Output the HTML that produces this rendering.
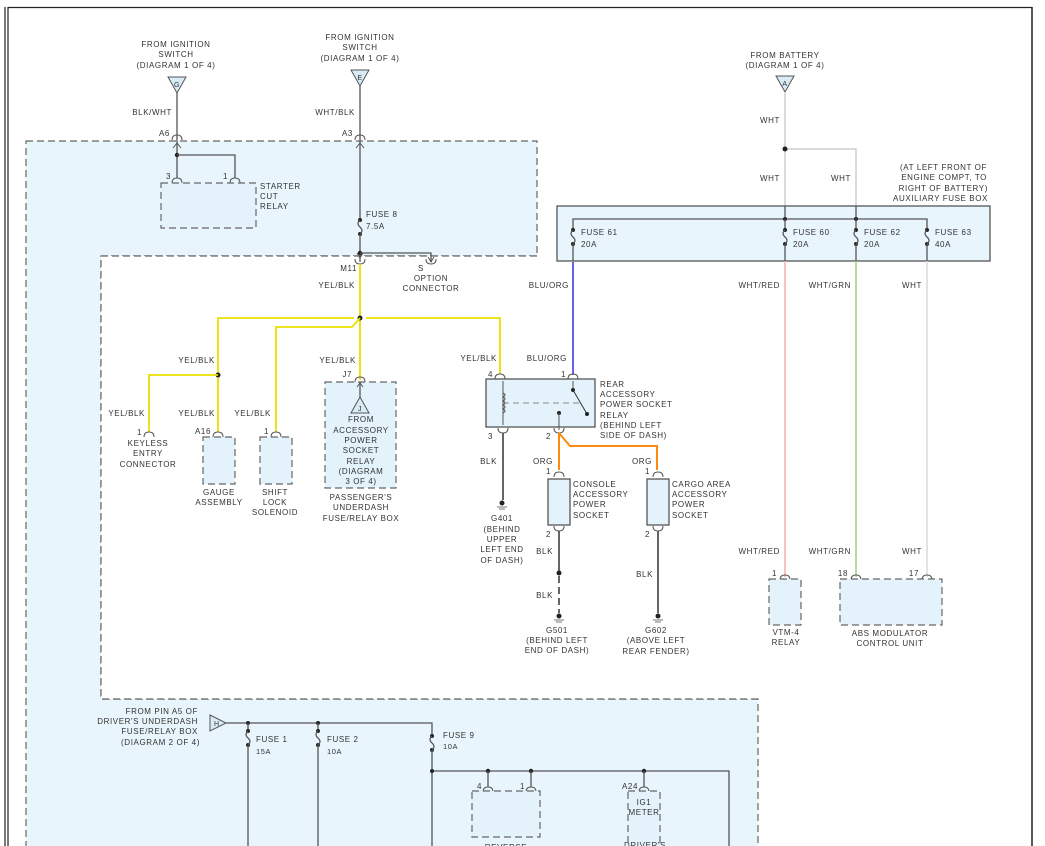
<!DOCTYPE html>
<html><head><meta charset="utf-8"><style>
html,body{margin:0;padding:0;background:#fff;}
svg{display:block;}
text{font-family:"Liberation Sans",sans-serif;font-size:8px;fill:#333;letter-spacing:0.6px;}
.m{text-anchor:middle}.e{text-anchor:end}
.w{fill:none;stroke:#555;stroke-width:1.3}
.d{stroke:#666;stroke-width:1.2;stroke-dasharray:7 4}
.y{fill:none;stroke:#e8e000;stroke-width:1.8}
.pin{fill:none;stroke:#555;stroke-width:1}
</style></head><body>
<svg width="1045" height="846" viewBox="0 0 1045 846">
<defs>
<path id="pu" d="M-5 3 Q-5 -2 0 -2 Q5 -2 5 3" class="pin"/>
<path id="pd" d="M-5 -3 Q-5 2 0 2 Q5 2 5 -3" class="pin"/>
<g id="fz"><circle cx="0" cy="0" r="2" fill="#222"/><circle cx="0" cy="14" r="2" fill="#222"/><path d="M0 0 Q-4 3.5 0 7 Q4 10.5 0 14" fill="none" stroke="#555" stroke-width="1.2"/></g>
</defs>
<!-- frame -->
<line x1="5" y1="7" x2="5" y2="846" stroke="#222" stroke-width="1.2"/>
<line x1="8" y1="7" x2="8" y2="846" stroke="#222" stroke-width="1.2"/>
<line x1="8" y1="7.5" x2="1032" y2="7.5" stroke="#222" stroke-width="1.2"/>
<line x1="1032" y1="7" x2="1032" y2="846" stroke="#222" stroke-width="1.5"/>
<!-- driver's box -->
<polygon points="26,141 537,141 537,256 101,256 101,699 758,699 758,850 26,850" fill="#e9f5fc" class="d"/>
<rect x="101" y="256" width="657" height="443" fill="#fff"/>
<polyline points="537,256 101,256 101,699 758,699" fill="none" class="d"/>

<!-- G -->
<text x="176" y="47" class="m">FROM IGNITION</text><text x="176" y="57" class="m">SWITCH</text><text x="176" y="68" class="m">(DIAGRAM 1 OF 4)</text>
<polygon points="168,77 186,77 177,93" fill="#d8ecf5" stroke="#555"/><text x="177" y="87" class="m" style="font-size:7px">G</text>
<line x1="177" y1="93" x2="177" y2="178" class="w"/>
<text x="172" y="115" class="e">BLK/WHT</text><text x="170" y="136" class="e">A6</text>
<use href="#pu" x="177" y="137"/><path d="M173 148 L177 143 L181 148" class="pin"/>
<circle cx="177" cy="155" r="2.2" fill="#222"/>
<polyline points="177,155 235,155 235,178" class="w"/>
<text x="171" y="179" class="e">3</text><text x="228" y="179" class="e">1</text>
<use href="#pu" x="177" y="180"/><use href="#pu" x="235" y="180"/>
<rect x="161" y="183" width="95" height="45" fill="#e3f2fb" class="d"/>
<text x="260" y="189">STARTER</text><text x="260" y="199">CUT</text><text x="260" y="209">RELAY</text>

<!-- E -->
<text x="360" y="40" class="m">FROM IGNITION</text><text x="360" y="50" class="m">SWITCH</text><text x="360" y="61" class="m">(DIAGRAM 1 OF 4)</text>
<polygon points="351,70 369,70 360,86" fill="#d8ecf5" stroke="#555"/><text x="360" y="80" class="m" style="font-size:7px">E</text>
<line x1="360" y1="86" x2="360" y2="220" class="w"/>
<text x="355" y="115" class="e">WHT/BLK</text><text x="353" y="136" class="e">A3</text>
<use href="#pu" x="360" y="137"/><path d="M356 148 L360 143 L364 148" class="pin"/>
<use href="#fz" x="360" y="220"/>
<text x="366" y="217">FUSE 8</text><text x="366" y="229">7.5A</text>
<line x1="360" y1="234" x2="360" y2="262" class="w"/>
<circle cx="360" cy="253" r="2.2" fill="#222"/>
<polyline points="360,253 431,253 431,262" class="w"/>
<path d="M357 253 L360 258 L363 253" class="pin"/><path d="M428 257 L431 262 L434 257" class="pin"/>
<use href="#pd" x="360" y="262"/><use href="#pd" x="431" y="262"/>
<text x="357" y="271" class="e">M11</text><text x="421" y="271" class="m">S</text>
<text x="431" y="281" class="m">OPTION</text><text x="431" y="291" class="m">CONNECTOR</text>

<!-- yellow tree -->
<line x1="360" y1="264" x2="360" y2="380" class="y"/>
<text x="355" y="288" class="e">YEL/BLK</text>
<circle cx="360" cy="318" r="2.5" fill="#222"/>
<polyline points="354,318 218,318 218,432" class="y"/>
<polyline points="366,318 500,318 500,374" class="y"/>
<polyline points="360,318 352,327 276,327 276,432" class="y"/>
<circle cx="218" cy="375" r="2.5" fill="#222"/>
<polyline points="218,375 149,375 149,432" class="y"/>
<text x="215" y="363" class="e">YEL/BLK</text><text x="356" y="363" class="e">YEL/BLK</text><text x="497" y="361" class="e">YEL/BLK</text>
<text x="145" y="416" class="e">YEL/BLK</text><text x="215" y="416" class="e">YEL/BLK</text><text x="271" y="416" class="e">YEL/BLK</text>
<!-- keyless -->
<use href="#pu" x="149" y="434"/><text x="142" y="435" class="e">1</text>
<text x="148" y="446" class="m">KEYLESS</text><text x="148" y="456" class="m">ENTRY</text><text x="148" y="467" class="m">CONNECTOR</text>
<!-- gauge -->
<use href="#pu" x="218" y="434"/><text x="211" y="434" class="e">A16</text>
<rect x="203" y="437" width="32" height="47" fill="#e3f2fb" class="d"/>
<text x="219" y="495" class="m">GAUGE</text><text x="219" y="505" class="m">ASSEMBLY</text>
<!-- shift -->
<use href="#pu" x="276" y="434"/><text x="269" y="434" class="e">1</text>
<rect x="260" y="437" width="32" height="47" fill="#e3f2fb" class="d"/>
<text x="275" y="495" class="m">SHIFT</text><text x="275" y="505" class="m">LOCK</text><text x="275" y="515" class="m">SOLENOID</text>
<!-- passenger -->
<use href="#pu" x="360" y="379"/><text x="352" y="377" class="e">J7</text>
<rect x="325" y="382" width="71" height="106" fill="#e3f2fb" class="d"/>
<line x1="360" y1="382" x2="360" y2="397" class="w"/><path d="M357 387 L360 383 L363 387" class="pin"/>
<polygon points="360,397 351,413 369,413" fill="#d8ecf5" stroke="#555"/><text x="360" y="411" class="m" style="font-size:7px">J</text>
<text x="361" y="422" class="m">FROM</text><text x="361" y="433" class="m">ACCESSORY</text><text x="361" y="443" class="m">POWER</text><text x="361" y="453" class="m">SOCKET</text><text x="361" y="464" class="m">RELAY</text><text x="361" y="474" class="m">(DIAGRAM</text><text x="361" y="484" class="m">3 OF 4)</text>
<text x="361" y="500" class="m">PASSENGER'S</text><text x="361" y="510" class="m">UNDERDASH</text><text x="361" y="521" class="m">FUSE/RELAY BOX</text>

<!-- rear relay -->
<line x1="573" y1="262" x2="573" y2="375" stroke="#5a4ee8" stroke-width="1.8"/>
<text x="569" y="288" class="e">BLU/ORG</text><text x="567" y="361" class="e">BLU/ORG</text>
<use href="#pu" x="500" y="376"/><use href="#pu" x="573" y="376"/>
<text x="493" y="377" class="e">4</text><text x="566" y="377" class="e">1</text>
<rect x="486" y="379" width="109" height="48" fill="#e3f2fb" stroke="#555" stroke-width="1.3"/>
<line x1="503" y1="381" x2="503" y2="425" class="pin"/>
<path d="M503 393 q4 2 0 4 q4 2 0 4 q4 2 0 4 q4 2 0 4 q4 2 0 4" fill="none" stroke="#555"/>
<line x1="503" y1="403" x2="580" y2="403" stroke="#888" stroke-dasharray="6 4"/>
<line x1="573" y1="381" x2="573" y2="390" class="pin"/><circle cx="573" cy="390" r="2" fill="#222"/>
<line x1="573" y1="390" x2="587" y2="414" stroke="#333"/><circle cx="587" cy="414" r="2" fill="#222"/>
<circle cx="559" cy="413" r="2" fill="#222"/><line x1="559" y1="413" x2="559" y2="430" class="pin"/>
<use href="#pd" x="503" y="431"/><use href="#pd" x="559" y="431"/>
<text x="493" y="439" class="e">3</text><text x="551" y="439" class="e">2</text>
<text x="600" y="387">REAR</text><text x="600" y="397">ACCESSORY</text><text x="600" y="407">POWER SOCKET</text><text x="600" y="418">RELAY</text><text x="600" y="428">(BEHIND LEFT</text><text x="600" y="438">SIDE OF DASH)</text>
<line x1="503" y1="433" x2="503" y2="500" stroke="#555" stroke-width="1.8"/>
<text x="497" y="464" class="e">BLK</text>
<circle cx="502" cy="503" r="2.5" fill="#222"/><line x1="497" y1="507" x2="507" y2="507" stroke="#777"/><line x1="499" y1="509" x2="505" y2="509" stroke="#777"/>
<text x="502" y="521" class="m">G401</text><text x="502" y="532" class="m">(BEHIND</text><text x="502" y="542" class="m">UPPER</text><text x="502" y="552" class="m">LEFT END</text><text x="502" y="563" class="m">OF DASH)</text>
<polyline points="559,433 559,470" stroke="#ff8a10" stroke-width="2" fill="none"/>
<polyline points="559,433 570,446 657,446 657,470" stroke="#ff8a10" stroke-width="2" fill="none"/>
<text x="553" y="464" class="e">ORG</text><text x="652" y="464" class="e">ORG</text>
<use href="#pu" x="559" y="474"/><use href="#pu" x="658" y="474"/>
<text x="551" y="474" class="e">1</text><text x="650" y="474" class="e">1</text>
<rect x="548" y="479" width="22" height="46" fill="#e3f2fb" stroke="#555" stroke-width="1.3"/>
<rect x="647" y="479" width="22" height="46" fill="#e3f2fb" stroke="#555" stroke-width="1.3"/>
<use href="#pd" x="559" y="529"/><use href="#pd" x="658" y="529"/>
<text x="551" y="537" class="e">2</text><text x="650" y="537" class="e">2</text>
<text x="573" y="487">CONSOLE</text><text x="573" y="497">ACCESSORY</text><text x="573" y="507">POWER</text><text x="573" y="518">SOCKET</text>
<text x="672" y="487">CARGO AREA</text><text x="672" y="497">ACCESSORY</text><text x="672" y="507">POWER</text><text x="672" y="518">SOCKET</text>
<line x1="559" y1="531" x2="559" y2="573" stroke="#555" stroke-width="1.8"/>
<circle cx="559" cy="573" r="2.5" fill="#222"/>
<line x1="559" y1="576" x2="559" y2="613" stroke="#555" stroke-width="1.8" stroke-dasharray="7 4"/>
<text x="553" y="554" class="e">BLK</text><text x="553" y="598" class="e">BLK</text>
<circle cx="559" cy="616" r="2.5" fill="#222"/><line x1="554" y1="620" x2="564" y2="620" stroke="#777"/><line x1="556" y1="622" x2="562" y2="622" stroke="#777"/>
<text x="557" y="633" class="m">G501</text><text x="557" y="643" class="m">(BEHIND LEFT</text><text x="557" y="653" class="m">END OF DASH)</text>
<line x1="658" y1="531" x2="658" y2="613" stroke="#555" stroke-width="1.8"/>
<text x="653" y="577" class="e">BLK</text>
<circle cx="658" cy="616" r="2.5" fill="#222"/><line x1="653" y1="620" x2="663" y2="620" stroke="#777"/><line x1="655" y1="622" x2="661" y2="622" stroke="#777"/>
<text x="656" y="633" class="m">G602</text><text x="656" y="643" class="m">(ABOVE LEFT</text><text x="656" y="654" class="m">REAR FENDER)</text>

<!-- battery / aux box -->
<text x="785" y="58" class="m">FROM BATTERY</text><text x="785" y="68" class="m">(DIAGRAM 1 OF 4)</text>
<polygon points="776,76 794,76 785,92" fill="#d8ecf5" stroke="#555"/><text x="785" y="86" class="m" style="font-size:7px">A</text>
<line x1="785" y1="92" x2="785" y2="206" stroke="#cfcfcf" stroke-width="1.5"/>
<polyline points="785,149 856,149 856,206" stroke="#cfcfcf" stroke-width="1.5" fill="none"/>
<circle cx="785" cy="149" r="2.5" fill="#222"/>
<text x="780" y="123" class="e">WHT</text><text x="780" y="181" class="e">WHT</text><text x="851" y="181" class="e">WHT</text>
<text x="987" y="170" class="e">(AT LEFT FRONT OF</text><text x="987" y="180" class="e">ENGINE COMPT, TO</text><text x="988" y="191" class="e">RIGHT OF BATTERY)</text><text x="988" y="201" class="e">AUXILIARY FUSE BOX</text>
<rect x="557" y="206" width="433" height="55" fill="#e9f5fc" stroke="#555" stroke-width="1.3"/>
<line x1="785" y1="206" x2="785" y2="219" class="w"/><line x1="856" y1="206" x2="856" y2="219" class="w"/>
<polyline points="573,230 573,219 927,219 927,230" class="w"/>
<circle cx="785" cy="219" r="2" fill="#222"/><circle cx="856" cy="219" r="2" fill="#222"/>
<line x1="785" y1="219" x2="785" y2="230" class="w"/><line x1="856" y1="219" x2="856" y2="230" class="w"/>
<use href="#fz" x="573" y="230"/><use href="#fz" x="785" y="230"/><use href="#fz" x="856" y="230"/><use href="#fz" x="927" y="230"/>
<line x1="573" y1="244" x2="573" y2="261" class="w"/><line x1="785" y1="244" x2="785" y2="261" class="w"/><line x1="856" y1="244" x2="856" y2="261" class="w"/><line x1="927" y1="244" x2="927" y2="261" class="w"/>
<text x="581" y="235">FUSE 61</text><text x="581" y="247">20A</text>
<text x="793" y="235">FUSE 60</text><text x="793" y="247">20A</text>
<text x="864" y="235">FUSE 62</text><text x="864" y="247">20A</text>
<text x="935" y="235">FUSE 63</text><text x="935" y="247">40A</text>
<line x1="785" y1="261" x2="785" y2="577" stroke="#f4b3b3" stroke-width="1.6"/>
<line x1="856" y1="261" x2="856" y2="577" stroke="#9ed48d" stroke-width="1.6"/>
<line x1="927" y1="261" x2="927" y2="577" stroke="#dcdcdc" stroke-width="1.6"/>
<text x="780" y="288" class="e">WHT/RED</text><text x="851" y="288" class="e">WHT/GRN</text><text x="922" y="288" class="e">WHT</text>
<text x="780" y="554" class="e">WHT/RED</text><text x="851" y="554" class="e">WHT/GRN</text><text x="922" y="554" class="e">WHT</text>
<use href="#pu" x="785" y="577"/><use href="#pu" x="856" y="577"/><use href="#pu" x="927" y="577"/>
<text x="777" y="576" class="e">1</text><text x="848" y="576" class="e">18</text><text x="919" y="576" class="e">17</text>
<rect x="769" y="579" width="32" height="46" fill="#e3f2fb" class="d"/>
<rect x="840" y="579" width="102" height="46" fill="#e3f2fb" class="d"/>
<text x="786" y="635" class="m">VTM-4</text><text x="786" y="645" class="m">RELAY</text>
<text x="890" y="636" class="m">ABS MODULATOR</text><text x="890" y="646" class="m">CONTROL UNIT</text>

<!-- bottom -->
<text x="198" y="714" class="e">FROM PIN A5 OF</text><text x="198" y="724" class="e">DRIVER'S UNDERDASH</text><text x="198" y="734" class="e">FUSE/RELAY BOX</text><text x="200" y="745" class="e">(DIAGRAM 2 OF 4)</text>
<polygon points="210,715 226,723 210,731" fill="#d8ecf5" stroke="#555"/><text x="214" y="726" style="font-size:7px">H</text>
<polyline points="226,723 432,723 432,735" class="w"/>
<circle cx="248" cy="723" r="2" fill="#222"/><circle cx="318" cy="723" r="2" fill="#222"/>
<line x1="248" y1="723" x2="248" y2="731" class="w"/><line x1="318" y1="723" x2="318" y2="731" class="w"/>
<use href="#fz" x="248" y="731"/><use href="#fz" x="318" y="731"/><use href="#fz" x="432" y="736"/>
<line x1="248" y1="745" x2="248" y2="846" class="w"/><line x1="318" y1="745" x2="318" y2="846" class="w"/>
<line x1="432" y1="750" x2="432" y2="846" class="w"/>
<text x="256" y="742">FUSE 1</text><text x="256" y="754" style="font-size:7.5px">15A</text>
<text x="327" y="742">FUSE 2</text><text x="327" y="754" style="font-size:7.5px">10A</text>
<text x="443" y="738">FUSE 9</text><text x="443" y="749" style="font-size:7.5px">10A</text>
<polyline points="432,771 729,771 729,846" class="w"/>
<circle cx="432" cy="771" r="2" fill="#222"/><circle cx="488" cy="771" r="2.2" fill="#222"/><circle cx="531" cy="771" r="2.2" fill="#222"/><circle cx="644" cy="771" r="2.2" fill="#222"/>
<line x1="488" y1="771" x2="488" y2="787" class="w"/><line x1="531" y1="771" x2="531" y2="787" class="w"/><line x1="644" y1="771" x2="644" y2="787" class="w"/>
<use href="#pu" x="488" y="789"/><use href="#pu" x="531" y="789"/><use href="#pu" x="644" y="789"/>
<text x="482" y="789" class="e">4</text><text x="525" y="789" class="e">1</text><text x="638" y="789" class="e">A24</text>
<rect x="472" y="791" width="68" height="46" fill="#e3f2fb" class="d"/>
<rect x="628" y="791" width="32" height="60" fill="#e3f2fb" class="d"/>
<text x="644" y="805" class="m">IG1</text><text x="644" y="815" class="m">METER</text>
<text x="506" y="850" class="m">REVERSE</text><text x="645" y="848" class="m">DRIVER'S</text>
</svg>
</body></html>
